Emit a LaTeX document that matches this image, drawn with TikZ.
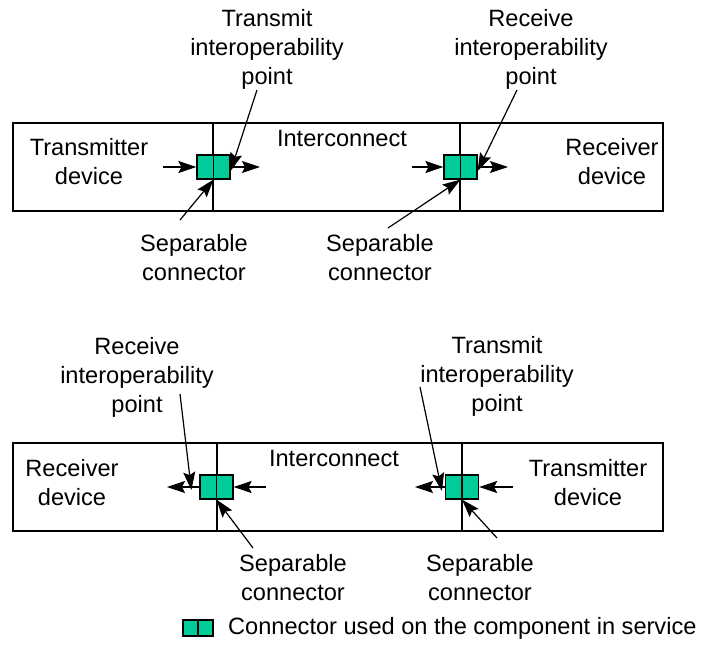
\documentclass[tikz,border=0pt]{standalone}
\usepackage{fontspec}
\setmainfont{Liberation Sans}
\usetikzlibrary{arrows.meta}
\definecolor{conngreen}{RGB}{0,204,153}
\tikzstyle{conn} = [rectangle, draw=black, line width=1.2pt, fill=conngreen, minimum width=33pt, minimum height=24pt, inner sep=0pt, path picture={\draw[line width=1.2pt] (path picture bounding box.north) -- (path picture bounding box.south);}]
\tikzstyle{txt} = [align=center, font=\fontsize{23.6}{29}\selectfont, inner sep=0pt]
\tikzstyle{edge} = [line width=1.2pt, -{Stealth[length=18pt,width=12pt,inset=3pt]}]
\tikzstyle{frame} = [line width=1.5pt]

\begin{document}
\begin{tikzpicture}[x=1pt, y=-1pt]
\useasboundingbox (0,0) rectangle (705,648);

% upper link: transmitter on the left
\draw [frame] (13,123) rectangle (663,211);
\draw [frame] (213,123) -- (213,211);
\draw [frame] (460,123) -- (460,211);

\node (c1) [conn] at (213.5,167) {};
\node (c2) [conn] at (460.5,167) {};

\node (txA) [txt] at (89,161.5) {Transmitter\\device};
\node (icA) [txt] at (342,138) {Interconnect};
\node (rxA) [txt] at (612,161.5) {Receiver\\device};
\node (tipA) [txt] at (267,49) {Transmit\\interoperability\\point};
\node (ripA) [txt] at (531,49) {Receive\\interoperability\\point};
\node (sepA) [txt] at (194,258) {Separable\\connector};
\node (sepB) [txt] at (380,258) {Separable\\connector};

\coordinate (in1) at (163,167);
\coordinate (out1) at (260,167);
\coordinate (in2) at (412,167);
\coordinate (out2) at (508,167);
\coordinate (tipAend) at (257,90);
\coordinate (ripAend) at (517,90);
\coordinate (sepAend) at (180,220);
\coordinate (sepBend) at (388,228);

\draw [edge] (in1) -- (c1);
\draw [edge] (c1) -- (out1);
\draw [edge] (in2) -- (c2);
\draw [edge] (c2) -- (out2);
\draw [edge] (tipAend) -- ([yshift=-4pt]c1.east);
\draw [edge] (ripAend) -- ([yshift=-4pt]c2.east);
\draw [edge] (sepAend) -- (c1.south);
\draw [edge] (sepBend) -- (c2.south);

% lower link: transmitter on the right
\draw [frame] (13,443) rectangle (663,531);
\draw [frame] (217,443) -- (217,531);
\draw [line width=2.6pt] (462,443) -- (462,531);

\node (c3) [conn] at (216.5,487) {};
\node (c4) [conn] at (462,487) {};

\node (rxB) [txt] at (72,482.5) {Receiver\\device};
\node (icB) [txt] at (334,458) {Interconnect};
\node (txB) [txt] at (588,482.5) {Transmitter\\device};
\node (ripB) [txt] at (137,377) {Receive\\interoperability\\point};
\node (tipB) [txt] at (497,376) {Transmit\\interoperability\\point};
\node (sepC) [txt] at (293,578) {Separable\\connector};
\node (sepD) [txt] at (480,578) {Separable\\connector};

\coordinate (out3) at (167,487);
\coordinate (in3) at (266,487);
\coordinate (out4) at (415,487);
\coordinate (in4) at (513,487);
\coordinate (ripBend) at (180,394);
\coordinate (tipBend) at (420,387);
\coordinate (sepCend) at (253,548);
\coordinate (sepDend) at (497,538);

\draw [edge] (c3) -- (out3);
\draw [edge] (in3) -- (c3);
\draw [edge] (c4) -- (out4);
\draw [edge] (in4) -- (c4);
\draw [edge] (ripBend) -- ([xshift=-8pt,yshift=-3pt]c3.west);
\draw [edge] (tipBend) -- ([xshift=-3pt,yshift=-4pt]c4.west);
\draw [edge] (sepCend) -- (c3.south);
\draw [edge] (sepDend) -- (c4.south);

% legend
\node (key) [conn, minimum width=30pt, minimum height=16pt] at (198,628) {};
\node (keytxt) [txt, anchor=west] at (228,628) {Connector used on the component in service};

\end{tikzpicture}
\end{document}
